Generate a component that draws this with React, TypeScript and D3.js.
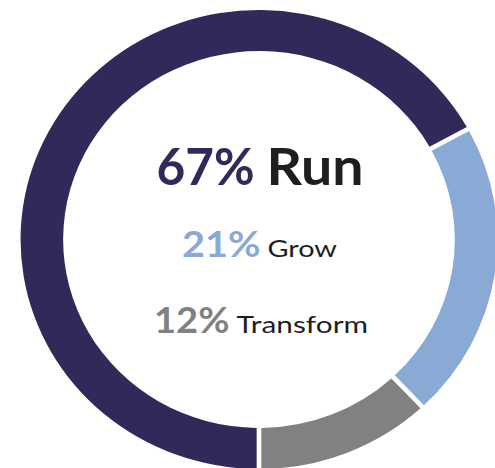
import React from "react";
import * as d3 from "d3";

const categories = ["Run", "Grow", "Transform"];
const values = [67, 21, 12];
const colors = ["#33285A", "#8AAAD6", "#808281"];
const labelColors = ["#1E1E1E", "#1E1E1E", "#1E1E1E"];

const W = 495;
const H = 468;
const cx = 259;
const cy = 239.5;
const sx = 1.039;
const outerR = 229.5;
const innerR = 188.5;

type LabelLine = {
  baseline: number;
  pctSize: number;
  nameSize: number;
  pctX: [number, number];
  nameX: [number, number];
  nameBold: boolean;
};

const lines: LabelLine[] = [
  { baseline: 185, pctSize: 52, nameSize: 52, pctX: [156.5, 254.5], nameX: [266.5, 363.5], nameBold: true },
  { baseline: 257.3, pctSize: 36, nameSize: 24, pctX: [182, 260.5], nameX: [267.5, 337], nameBold: false },
  { baseline: 333.3, pctSize: 36, nameSize: 24, pctX: [154, 229.5], nameX: [236.5, 368], nameBold: false },
];

export default function App() {
  const pie = d3
    .pie<number>()
    .sort(null)
    .value((d) => d)
    .startAngle(Math.PI)
    .endAngle(3 * Math.PI);
  const arcs = pie(values);
  const arc = d3
    .arc<d3.PieArcDatum<number>>()
    .innerRadius(innerR)
    .outerRadius(outerR)
    .padRadius(210)
    .padAngle(4.5 / 210);

  return (
    <svg
      width={W}
      height={H}
      style={{ position: "absolute", left: 0, top: 0, background: "#fff" }}
      fontFamily="Lato, 'Open Sans', sans-serif"
    >
      <g transform={`translate(${cx},${cy}) scale(${sx},1)`}>
        {arcs.map((a, i) => (
          <path key={categories[i]} d={arc(a) || ""} fill={colors[i]} />
        ))}
      </g>
      {lines.map((l, i) => (
        <g key={categories[i]}>
          <text
            x={l.pctX[0]}
            y={l.baseline}
            fontSize={l.pctSize}
            fontWeight={700}
            fill={colors[i]}
            textLength={l.pctX[1] - l.pctX[0]}
            lengthAdjust="spacingAndGlyphs"
          >
            {`${values[i]}%`}
          </text>
          <text
            x={l.nameX[0]}
            y={l.baseline}
            fontSize={l.nameSize}
            fontWeight={l.nameBold ? 700 : 400}
            fill={labelColors[i]}
            textLength={l.nameX[1] - l.nameX[0]}
            lengthAdjust="spacingAndGlyphs"
          >
            {categories[i]}
          </text>
        </g>
      ))}
    </svg>
  );
}
